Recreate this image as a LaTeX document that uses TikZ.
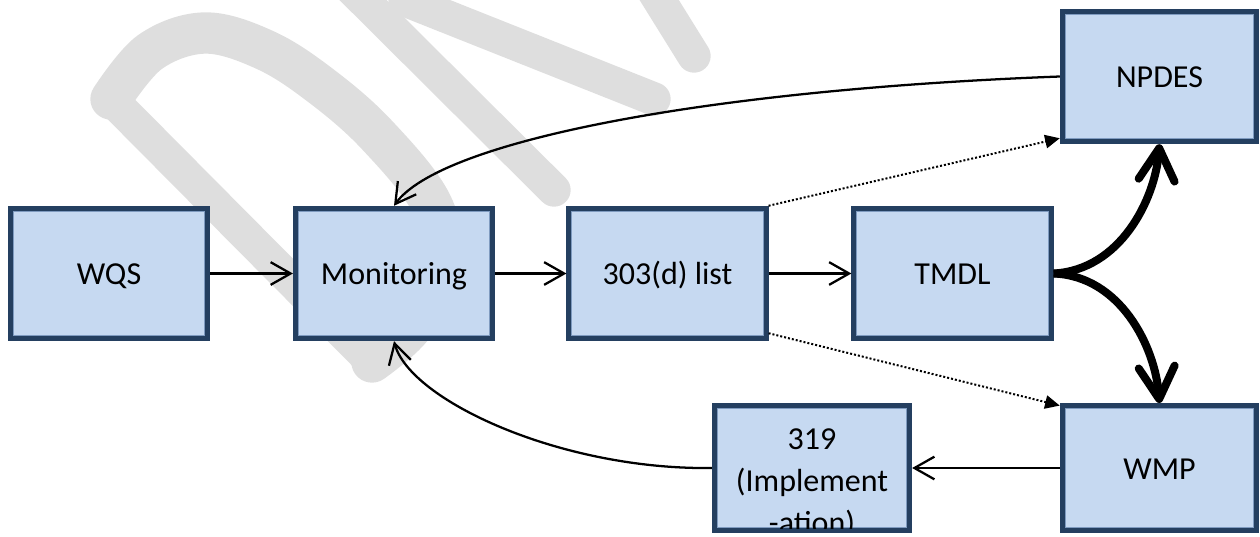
\documentclass[tikz,border=0pt]{standalone}
\usepackage{fontspec}
\setmainfont{Carlito}
\usetikzlibrary{arrows.meta}
\definecolor{boxfill}{HTML}{C6D9F1}
\definecolor{boxedge}{HTML}{243F60}
\definecolor{boxinner}{HTML}{7F9BC0}
\definecolor{wmark}{HTML}{DEDEDE}

\begin{document}
\begin{tikzpicture}[x=0.75pt,y=-0.75pt,
  labelfont/.style={font=\fontsize{24pt}{31.5pt}\selectfont},
  stage/.style={rectangle, fill=boxfill, draw=boxedge, line width=3.6pt,
    minimum width=148pt, minimum height=98pt, inner sep=0pt,
    labelfont, text height=20pt, text depth=2.8pt,
    path picture={\draw[boxinner, line width=0.7pt]
      ([shift={(2.2pt,2.2pt)}]path picture bounding box.south west) rectangle
      ([shift={(-2.2pt,-2.2pt)}]path picture bounding box.north east);}},
  flow/.style={draw=black, line width=1.7pt,
    -{Straight Barb[length=15pt,width=17pt]}},
  branch/.style={draw=black, line width=6pt,
    -{Straight Barb[length=24pt,width=27pt,round]}},
  hint/.style={draw=black, line width=1.5pt, dash pattern=on 1.5pt off 1.5pt,
    -{Triangle[length=11pt,width=10pt]}},
  wstroke/.style={draw=wmark, line width=25pt, line cap=round, line join=round}]

\useasboundingbox (0,0) rectangle (1260,536);

% faint lettering in the background
\begin{scope}
  \clip (0,0) rectangle (1260,536);
  \draw[wstroke] (111,99) -- (372,362);
  \draw[wstroke, line width=31pt] plot[smooth, tension=0.6] coordinates
    {(111,99) (150,52) (205,33) (265,50) (320,85) (377,135) (432,205)
     (442,272) (412,327) (372,362)};
  \draw[wstroke] (350,-13) -- (554,190);
  \draw[wstroke] (405,0) -- (654,99);
  \draw[wstroke] (648,-18) -- (694,56);
\end{scope}

% process boxes
\node[stage] (wqs)  at (109,273.5)   {WQS};
\node[stage] (mon)  at (394,273.5)   {Monitoring};
\node[stage] (list) at (667.5,273.5) {303(d) list};
\node[stage] (tmdl) at (952.5,273.5) {TMDL};
\node[stage, minimum width=146pt] (npdes) at (1159.5,76.5) {NPDES};
\node[stage, minimum width=146pt, minimum height=94pt] (wmp) at (1159.5,468) {WMP};
\node[stage, minimum width=146.6pt, minimum height=94pt] (impl) at (812,468) {};

% the long label runs past the lower edge of its box and is cut there
\begin{scope}
  \clip ([shift={(3.6pt,-3.6pt)}]impl.north west) rectangle
        ([shift={(-3.6pt,3.6pt)}]impl.south east);
  \node[labelfont, align=center, anchor=north, inner sep=0pt] (impltext)
    at (812,428) {319\\(Implement\\-ation)};
\end{scope}

% main sequence
\draw[flow] (wqs.east) -- (mon.west);
\draw[flow] (mon.east) -- (list.west);
\draw[flow] (list.east) -- (tmdl.west);
\draw[flow] (wmp.west) -- (impl.east);

% feedback loops into monitoring
\draw[flow] (npdes.west) .. controls (700,90) and (440,142) .. (mon.north);
\draw[flow] (impl.west) .. controls (560,470) and (410,400) .. (mon.south);

% indirect links from the list
\draw[hint] (list.north east) -- ([yshift=4.5pt]npdes.south west);
\draw[hint] ([yshift=6pt]list.south east) -- ([yshift=-2pt]wmp.north west);

% TMDL branches
\draw[branch] (tmdl.east) .. controls (1120,270) and (1155,200) .. (npdes.south);
\draw[branch] (tmdl.east) .. controls (1120,276) and (1155,346) .. (wmp.north);
\end{tikzpicture}
\end{document}
